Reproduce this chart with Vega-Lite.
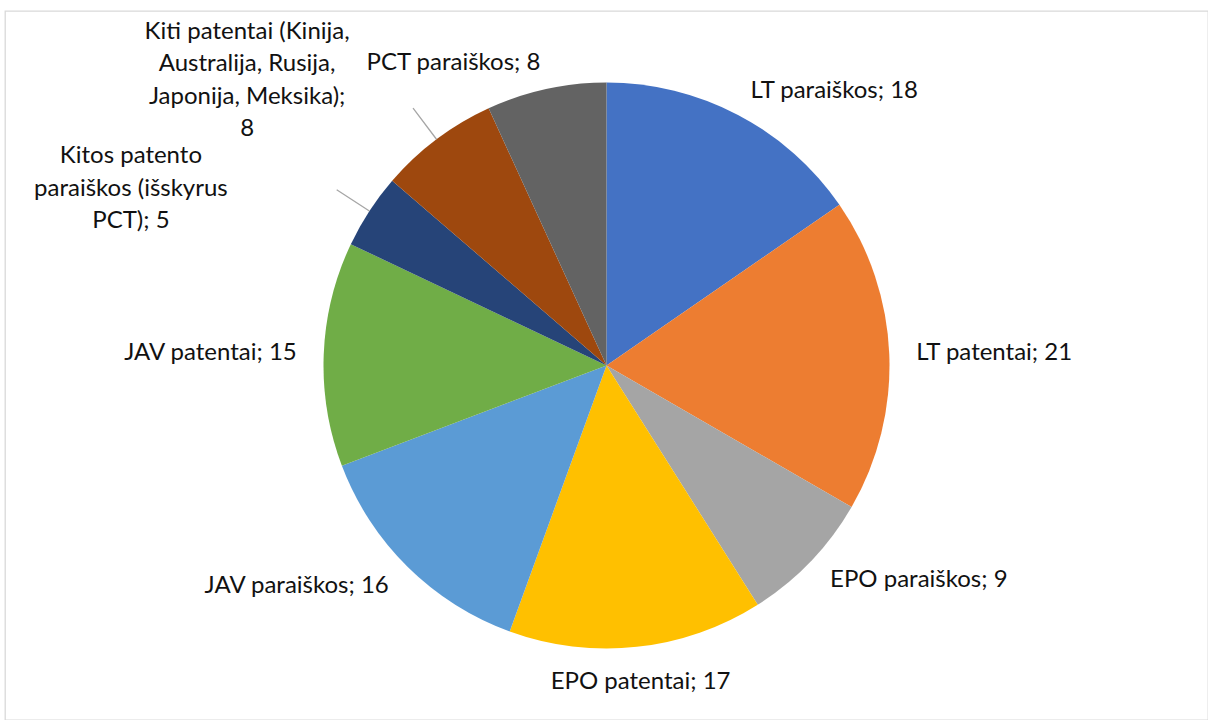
{
  "$schema": "https://vega.github.io/schema/vega-lite/v6.json",
  "width": 1203,
  "height": 709,
  "autosize": "none",
  "padding": {"left": 5, "top": 11, "right": 0, "bottom": 0},
  "background": "white",
  "view": {"stroke": "#d9d9d9", "strokeWidth": 1.3},
  "config": {"text": {"font": "Lato", "fontSize": 24, "fill": "#111111"}},
  "data": {
    "values": [
      {"category": "LT paraiškos", "value": 18, "label": "LT paraiškos; 18"},
      {"category": "LT patentai", "value": 21, "label": "LT patentai; 21"},
      {"category": "EPO paraiškos", "value": 9, "label": "EPO paraiškos; 9"},
      {"category": "EPO patentai", "value": 17, "label": "EPO patentai; 17"},
      {"category": "JAV paraiškos", "value": 16, "label": "JAV paraiškos; 16"},
      {"category": "JAV patentai", "value": 15, "label": "JAV patentai; 15"},
      {"category": "Kitos patento paraiškos (išskyrus PCT)", "value": 5, "label": "Kitos patento\nparaiškos (išskyrus\nPCT); 5"},
      {"category": "Kiti patentai (Kinija, Australija, Rusija, Japonija, Meksika)", "value": 8, "label": "Kiti patentai (Kinija,\nAustralija, Rusija,\nJaponija, Meksika);\n8"},
      {"category": "PCT paraiškos", "value": 8, "label": "PCT paraiškos; 8"}
    ]
  },
  "transform": [
    {"window": [{"op": "row_number", "as": "idx"}]},
    {"window": [{"op": "sum", "field": "value", "as": "cum"}], "sort": [{"field": "idx"}], "frame": [null, 0]},
    {"joinaggregate": [{"op": "sum", "field": "value", "as": "total"}]},
    {"calculate": "datum.cum - datum.value / 2", "as": "mid"},
    {"calculate": "datum.mid / datum.total * 360", "as": "deg"}
  ],
  "layer": [
    {
      "mark": {"type": "arc", "outerRadius": 283},
      "encoding": {
        "theta": {"field": "value", "type": "quantitative", "stack": true, "scale": {"domain": [0, 117]}},
        "order": {"field": "idx", "type": "quantitative"},
        "color": {
          "field": "category",
          "type": "nominal",
          "sort": null,
          "legend": null,
          "scale": {"range": ["#4472C4", "#ED7D31", "#A5A5A5", "#FFC000", "#5B9BD5", "#70AD47", "#264478", "#9E480E", "#636363"]}
        }
      }
    },
    {
      "transform": [{"filter": "datum.deg >= 295 && datum.deg <= 340"}],
      "mark": {"type": "arc", "outerRadius": 322, "innerRadius": 283, "stroke": "#a6a6a6", "strokeWidth": 1.3, "fill": null},
      "encoding": {
        "theta": {"field": "mid", "type": "quantitative", "stack": null},
        "theta2": {"field": "mid"}
      }
    },
    {
      "transform": [{"filter": "datum.deg < 165"}],
      "mark": {"type": "text", "radius": 310, "align": "left", "baseline": "middle"},
      "encoding": {
        "theta": {"field": "mid", "type": "quantitative", "stack": null},
        "text": {"field": "label"}
      }
    },
    {
      "transform": [{"filter": "datum.deg >= 165 && datum.deg < 200"}],
      "mark": {"type": "text", "radius": 318, "align": "center", "baseline": "middle"},
      "encoding": {
        "theta": {"field": "mid", "type": "quantitative", "stack": null},
        "text": {"field": "label"}
      }
    },
    {
      "transform": [{"filter": "(datum.deg >= 200 && datum.deg < 295) || datum.deg > 340"}],
      "mark": {"type": "text", "radius": 310, "align": "right", "baseline": "middle"},
      "encoding": {
        "theta": {"field": "mid", "type": "quantitative", "stack": null},
        "text": {"field": "label"}
      }
    },
    {
      "transform": [{"filter": "datum.deg >= 295 && datum.deg <= 340"}],
      "mark": {"type": "text", "radius": 490, "align": "center", "baseline": "middle", "dx": -65, "dy": 58, "lineBreak": "\n", "lineHeight": 32.5},
      "encoding": {
        "theta": {"field": "mid", "type": "quantitative", "stack": null},
        "text": {"field": "label"}
      }
    }
  ]
}
